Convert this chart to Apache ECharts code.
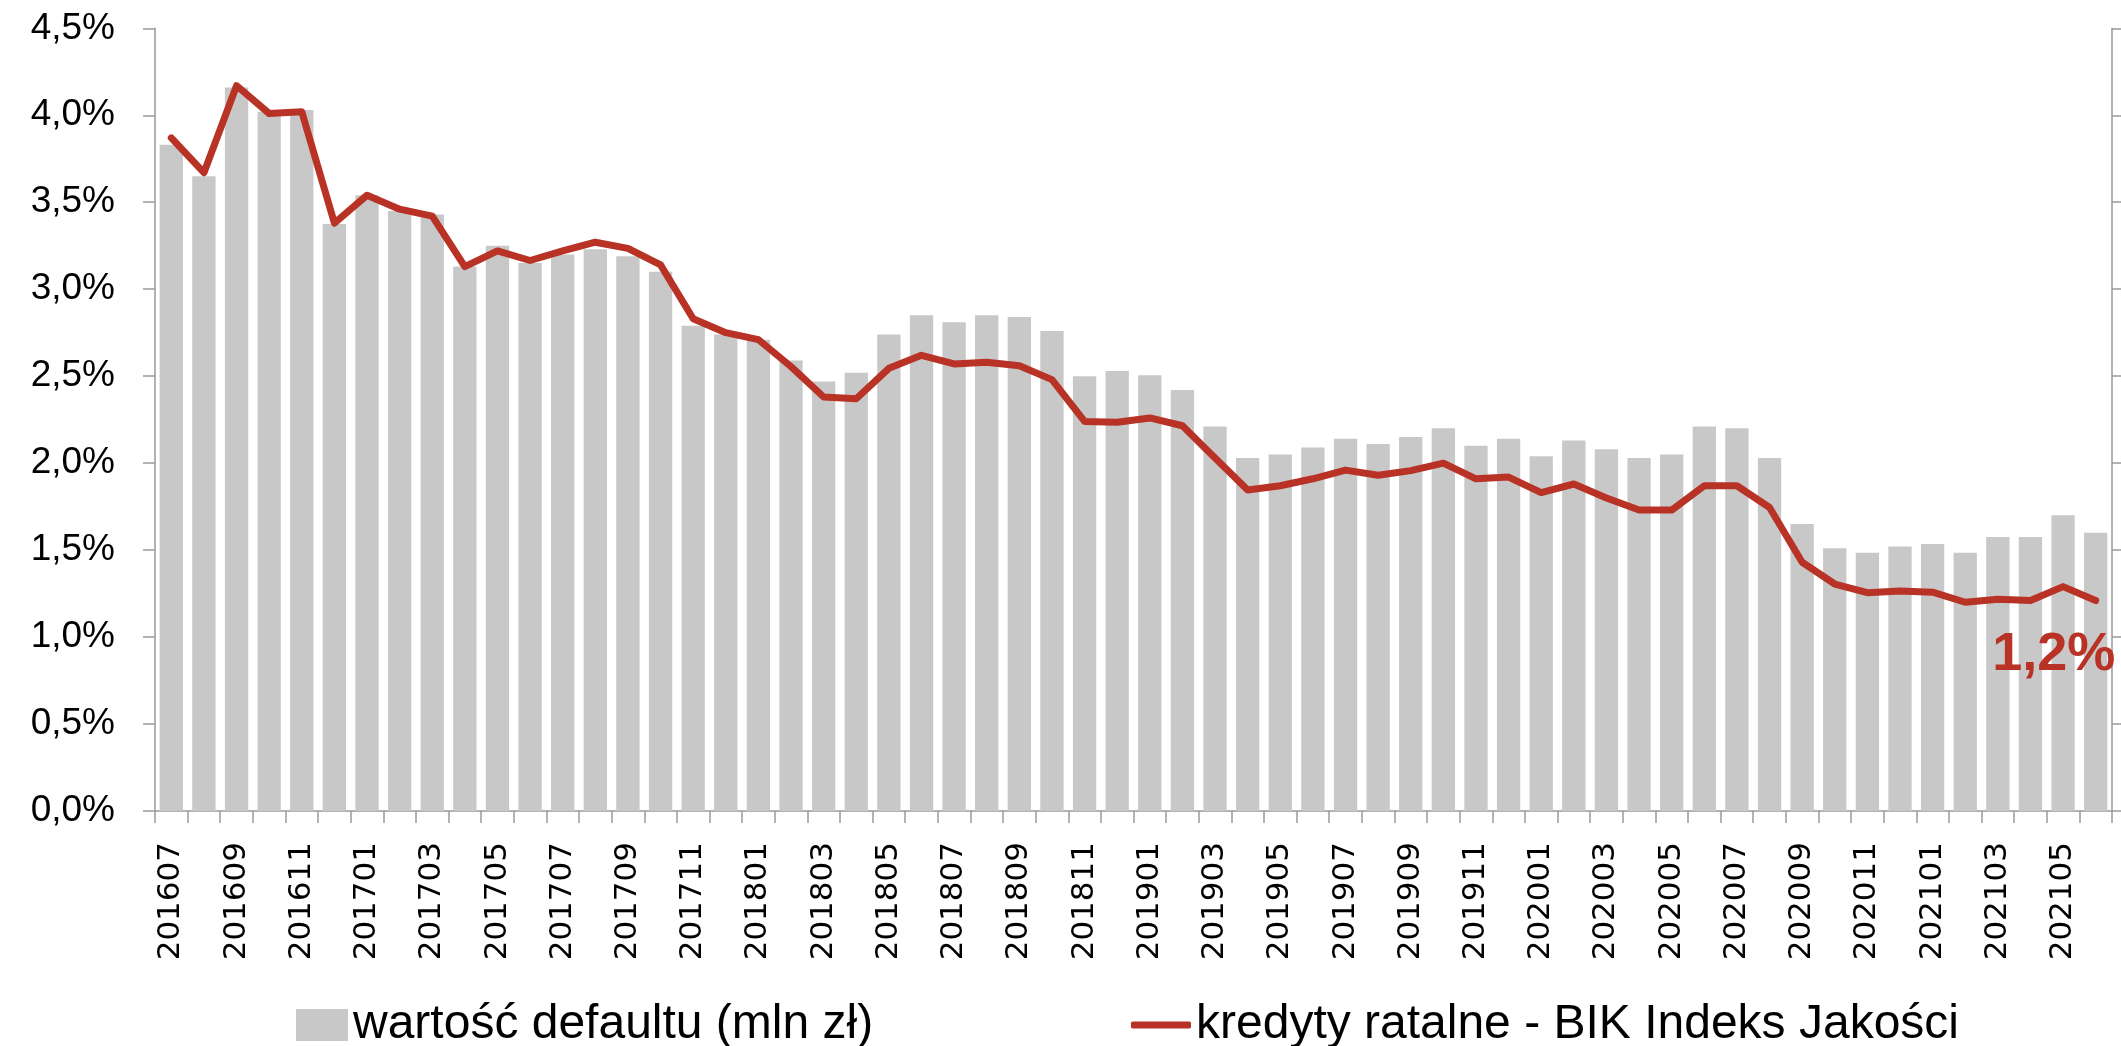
<!DOCTYPE html>
<html>
<head>
<meta charset="utf-8">
<script src="https://cdn.jsdelivr.net/npm/echarts@6/dist/echarts.min.js"></script>
<style>
html,body{margin:0;padding:0;background:#fff;}
#chart{width:2121px;height:1046px;}
</style>
</head>
<body>
<div id="chart"></div>
<script>
var categories = [
 '201607','201608','201609','201610','201611','201612',
 '201701','201702','201703','201704','201705','201706','201707','201708','201709','201710','201711','201712',
 '201801','201802','201803','201804','201805','201806','201807','201808','201809','201810','201811','201812',
 '201901','201902','201903','201904','201905','201906','201907','201908','201909','201910','201911','201912',
 '202001','202002','202003','202004','202005','202006','202007','202008','202009','202010','202011','202012',
 '202101','202102','202103','202104','202105','202106'
];
var defaultValues = [
 3.83, 3.65, 4.16, 4.02, 4.03, 3.375, 3.54, 3.45, 3.43, 3.13,
 3.25, 3.15, 3.20, 3.23, 3.19, 3.10, 2.79, 2.74, 2.71, 2.59,
 2.47, 2.52, 2.74, 2.85, 2.81, 2.85, 2.84, 2.76, 2.50, 2.53,
 2.505, 2.42, 2.21, 2.03, 2.05, 2.09, 2.14, 2.11, 2.15, 2.20,
 2.10, 2.14, 2.04, 2.13, 2.08, 2.03, 2.05, 2.21, 2.20, 2.03,
 1.65, 1.51, 1.485, 1.52, 1.535, 1.485, 1.575, 1.575, 1.70, 1.60
];
var indexValues = [
 3.87, 3.67, 4.17, 4.01, 4.02, 3.38, 3.54, 3.46, 3.42, 3.13,
 3.22, 3.165, 3.22, 3.27, 3.235, 3.14, 2.83, 2.75, 2.71, 2.555,
 2.38, 2.37, 2.545, 2.62, 2.57, 2.58, 2.56, 2.48, 2.24, 2.235,
 2.26, 2.215, 2.03, 1.846, 1.87, 1.91, 1.96, 1.93, 1.957, 2.00,
 1.91, 1.92, 1.83, 1.88, 1.80, 1.73, 1.73, 1.87, 1.87, 1.745,
 1.43, 1.305, 1.255, 1.265, 1.258, 1.20, 1.217, 1.21, 1.29, 1.21
];
var yTicks = [0, 0.5, 1, 1.5, 2, 2.5, 3, 3.5, 4, 4.5];
var barName = 'wartość defaultu (mln zł)';
var lineName = 'kredyty ratalne - BIK Indeks Jakości';

var RED = '#B83226';
var GREY_BAR = '#C8C8C8';
var AXIS = '#9A9A9A';
var FONT = 'Liberation Sans';

function pct(v){ return v.toFixed(1).replace('.', ',') + '%'; }

var chart = echarts.init(document.getElementById('chart'), null, {renderer:'canvas'});
var lastIdx = indexValues.length - 1;

chart.setOption({
  animation: false,
  backgroundColor: '#ffffff',
  grid: { left: 155, right: 9, top: 28.3, bottom: 235, containLabel: false },
  legend: [
    {
      data: [barName], left: 291, top: 996, icon: 'rect',
      itemWidth: 52, itemHeight: 32,
      textStyle: { fontFamily: FONT, fontSize: 48, color: '#000' }
    },
    {
      data: [{ name: lineName, icon: 'roundRect' }], left: 1126, top: 996,
      itemWidth: 60, itemHeight: 7,
      itemStyle: { color: RED, borderWidth: 0 },
      textStyle: { fontFamily: FONT, fontSize: 48, color: '#000' }
    }
  ],
  xAxis: {
    type: 'category',
    data: categories,
    boundaryGap: true,
    axisLine: { show: true, lineStyle: { color: AXIS, width: 1.5 } },
    axisTick: { show: true, interval: 0, alignWithLabel: false, length: 12, lineStyle: { color: AXIS, width: 1.5 } },
    axisLabel: {
      interval: 1, rotate: 90, margin: 31,
      fontFamily: 'DejaVu Sans', fontSize: 31, color: '#000'
    },
    splitLine: { show: false }
  },
  yAxis: [
    {
      type: 'value', min: yTicks[0], max: yTicks[yTicks.length - 1], interval: 0.5,
      position: 'left',
      axisLine: { show: true, lineStyle: { color: AXIS, width: 1.5 } },
      axisTick: { show: true, length: 12, lineStyle: { color: AXIS, width: 1.5 } },
      axisLabel: { formatter: pct, fontFamily: FONT, fontSize: 37, color: '#000', margin: 40 },
      splitLine: { show: false }
    },
    {
      type: 'value', min: yTicks[0], max: yTicks[yTicks.length - 1], interval: 0.5,
      position: 'right',
      axisLine: { show: true, lineStyle: { color: AXIS, width: 1.5 } },
      axisTick: { show: true, length: 12, lineStyle: { color: AXIS, width: 1.5 } },
      axisLabel: { show: false },
      splitLine: { show: false }
    }
  ],
  series: [
    {
      name: barName, type: 'bar', yAxisIndex: 1,
      data: defaultValues,
      barCategoryGap: '28.5%',
      itemStyle: { color: GREY_BAR },
      z: 2
    },
    {
      name: lineName, type: 'line', yAxisIndex: 0,
      data: indexValues,
      symbol: 'none', showSymbol: false, smooth: false,
      lineStyle: { color: RED, width: 7, cap: 'round', join: 'round' },
      itemStyle: { color: RED },
      z: 3,
      markPoint: {
        symbol: 'circle', symbolSize: 0,
        data: [{ coord: [categories[lastIdx], indexValues[lastIdx]], value: indexValues[lastIdx] }],
        label: {
          show: true, position: 'inside', offset: [-42, 55],
          formatter: function(p){ return pct(p.value); },
          fontFamily: FONT, fontSize: 54, fontWeight: 'bold', color: RED
        }
      }
    }
  ]
});
</script>
</body>
</html>
